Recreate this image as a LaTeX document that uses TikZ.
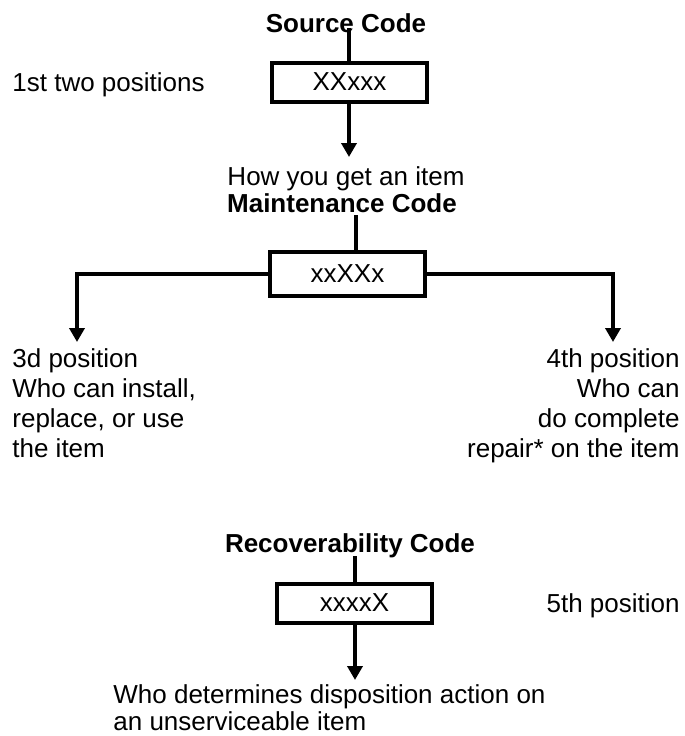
\documentclass[tikz,border=0pt]{standalone}
\usepackage{fontspec}
\setmainfont{Liberation Sans}
\usetikzlibrary{arrows.meta}
\begin{document}
\begin{tikzpicture}[x=0.5pt,y=-0.5pt,
    font=\fontsize{13}{15}\selectfont,
    codebox/.style={draw=black,line width=2pt,inner sep=0pt,minimum width=77.5pt,minimum height=19.5pt},
    title/.style={font=\fontsize{13}{15}\selectfont\bfseries,inner sep=0pt,anchor=base},
    txt/.style={inner sep=0pt},
    link/.style={line width=2pt},
    arr/.style={line width=2pt,-{Triangle[width=7.5pt,length=7pt]}}]
    \useasboundingbox (0,0) rectangle (685,736);
    % source code
    \node[title] (srctitle) at (346,32) {Source Code};
    \node[codebox] (srcbox) at (349.5,82) {XXxxx};
    \node[txt,anchor=base west] (srcpos) at (12,91) {1st two positions};
    \node[txt,anchor=base] (srcdesc) at (346,185) {How you get an item};
    \coordinate (srctop) at (349,28);
    \coordinate (srctip) at (349,157);
    \draw[link] (srctop) -- (srctop |- srcbox.north);
    \draw[arr] (srctop |- srcbox.south) -- (srctip);
    % maintenance code
    \node[title] (mntitle) at (342,212) {Maintenance Code};
    \node[codebox,minimum height=22pt] (mnbox) at (347.5,274) {xxXXx};
    \coordinate (mntop) at (356,215);
    \coordinate (lefttip) at (77,342);
    \coordinate (righttip) at (613,342);
    \draw[link] (mntop) -- (mntop |- mnbox.north);
    \draw[arr] (mnbox.west) -| (lefttip);
    \draw[arr] (mnbox.east) -| (righttip);
    \node[txt,anchor=north west,align=left] (mnleft) at (12,348.5)
        {3d position\\Who can install,\\replace, or use\\the item};
    \node[txt,anchor=north east,align=right] (mnright) at (680,348.5)
        {4th position\\Who can\\do complete\\repair* on the item};
    % recoverability code
    \node[title] (rctitle) at (350,552) {Recoverability Code};
    \node[codebox] (rcbox) at (354.5,603) {xxxxX};
    \node[txt,anchor=base east] (rcpos) at (680,612) {5th position};
    \coordinate (rctop) at (355,556);
    \coordinate (rctip) at (355,680);
    \draw[link] (rctop) -- (rctop |- rcbox.north);
    \draw[arr] (rctop |- rcbox.south) -- (rctip);
    \node[txt,anchor=north west,align=left,font=\fontsize{13}{13.5}\selectfont] (rcdesc) at (113,684.5)
        {Who determines disposition action on\\an unserviceable item};
\end{tikzpicture}
\end{document}
